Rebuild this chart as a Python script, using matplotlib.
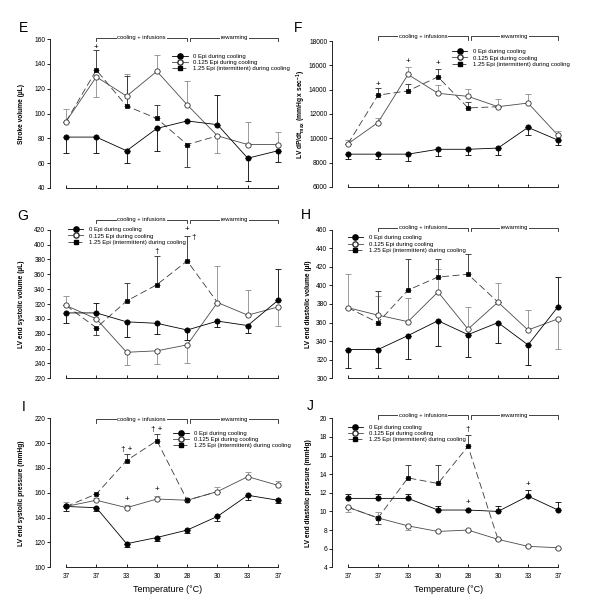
import numpy as np
import matplotlib
matplotlib.use('Agg')
import matplotlib.pyplot as plt
from matplotlib.lines import Line2D
from matplotlib.ticker import FormatStrFormatter

plt.rcParams['font.family'] = ['Liberation Sans', 'DejaVu Sans']
plt.rcParams['mathtext.fontset'] = 'custom'
plt.rcParams['mathtext.rm'] = 'Liberation Sans:bold'
plt.rcParams['mathtext.default'] = 'rm'
plt.rcParams['lines.scale_dashes'] = False

# ---------------- data ----------------
temps = ['37', '37', '33', '30', '28', '30', '33', '37']
series_labels = ['0 Epi during cooling', '0.125 Epi during cooling',
                 '1.25 Epi (intermittent) during cooling']

# E: stroke volume (uL)
sv_0 = [81, 81, 70, 88, 94, 91, 64, 70]
sv_0_dn = [13, 13, 10, 18, 0, 0, 18, 9]
sv_0_up = [0, 0, 0, 0, 0, 24, 0, 0]
sv_125 = [93.5, 129.5, 114, 134, 107, 82, 75, 75]
sv_125_dn = [0, 16.5, 0, 0, 0, 14, 0, 0]
sv_125_up = [10, 0, 18, 13, 19, 0, 18, 10]
sv_125i = [93.5, 135, 106, 96, 75, 82]
sv_125i_dn = [0, 0, 0, 0, 18, 0]
sv_125i_up = [0, 16, 24, 11, 0, 0]
sv_marks = [('+', 1, 153)]

# F: LV dP/dt max
dp_0 = [8700, 8700, 8700, 9100, 9100, 9200, 10900, 9850]
dp_0_dn = [380, 380, 600, 560, 500, 600, 600, 400]
dp_0_up = [0, 0, 0, 0, 0, 0, 0, 0]
dp_125 = [9550, 11300, 15250, 13700, 13450, 12600, 12900, 10250]
dp_125_dn = [0, 0, 0, 0, 0, 0, 0, 0]
dp_125_up = [330, 400, 650, 700, 600, 600, 750, 370]
dp_125i = [9550, 13550, 13900, 15050, 12500, 12600]
dp_125i_dn = [0, 0, 0, 0, 0, 0]
dp_125i_up = [0, 550, 600, 650, 450, 0]
dp_marks = [('+', 1, 14450), ('+', 2, 16280), ('+', 3, 16140)]

# G: LV end systolic volume (uL)
esv_0 = [308, 308, 296, 294, 285, 297, 291, 325]
esv_0_dn = [13, 0, 20, 14, 14, 8, 10, 0]
esv_0_up = [0, 13, 0, 0, 0, 0, 0, 42]
esv_125 = [318, 300, 255, 257, 265, 322, 305, 316]
esv_125_dn = [0, 0, 17, 18, 24, 0, 0, 25]
esv_125_up = [13, 0, 0, 0, 0, 49, 34, 0]
esv_125i = [318, 288, 324, 346, 378, 322]
esv_125i_dn = [0, 10, 0, 0, 0, 0]
esv_125i_up = [0, 0, 24, 38, 33, 0]
esv_marks = [('\u2020', 3, 390), ('+', 4, 420), ('\u2020', 4.2, 409)]

# H: LV end diastolic volume (ul)
edv_0 = [331, 331, 346, 362, 347, 360, 336, 377]
edv_0_dn = [19.5, 19.5, 25, 27, 24, 22, 22, 0]
edv_0_up = [0, 0, 0, 0, 0, 0, 0, 32]
edv_125 = [376, 368, 361, 393, 353, 382, 352, 364]
edv_125_dn = [0, 0, 0, 0, 0, 0, 0, 32]
edv_125_up = [36, 21, 25, 25, 24, 21, 22, 0]
edv_125i = [376, 360, 395, 409, 412, 382]
edv_125i_dn = [0, 0, 0, 0, 0, 0]
edv_125i_up = [0, 34, 33, 19, 22, 0]
edv_marks = []

# I: LV end systolic pressure (mmHg)
esp_0 = [149, 148, 119, 124, 130, 141, 158, 154]
esp_0_dn = [3.5, 3, 3, 2.5, 2, 4, 4, 2]
esp_0_up = [0, 0, 0, 0, 0, 0, 0, 0]
esp_125 = [149, 154, 148, 155, 154, 161, 173, 166]
esp_125_dn = [0, 0, 0, 0, 0, 0, 0, 0]
esp_125_up = [3.5, 2, 2, 2.5, 0, 3.5, 3.5, 3.5]
esp_125i = [149, 159, 186, 202, 154, 161]
esp_125i_dn = [0, 0, 0, 0, 0, 0]
esp_125i_up = [0, 0, 5, 5, 0, 0]
esp_marks = [('\u2020 +', 2, 195), ('\u2020 +', 3, 210.6), ('+', 2, 154.5), ('+', 3, 163)]

# J: LV end diastolic pressure (mmHg)
edp_0 = [11.4, 11.4, 11.4, 10.15, 10.15, 10.0, 11.65, 10.15]
edp_0_dn = [0, 0, 0, 0, 0, 0, 0, 0]
edp_0_up = [0.45, 0.45, 0.45, 0.4, 0, 0.55, 0.7, 0.9]
edp_125 = [10.45, 9.3, 8.45, 7.85, 8.0, 7.0, 6.25, 6.1]
edp_125_dn = [0.5, 0, 0.45, 0.1, 0.15, 0.1, 0.1, 0.1]
edp_125_up = [0, 0.6, 0, 0, 0, 0, 0, 0]
edp_125i = [10.45, 9.3, 13.6, 13.0, 17.0, 7.0]
edp_125i_dn = [0, 0.7, 0, 0, 0, 0]
edp_125i_up = [0, 0, 1.35, 2.0, 1.2, 0]
edp_marks = [('\u2020', 4, 18.75), ('+', 4, 11.0), ('+', 6, 12.9)]

# ---------------- drawing ----------------
W, H = 600, 611
fig = plt.figure(figsize=(W / 100, H / 100), dpi=100)

C0 = 'black'
C1 = '#4a4a4a'
C1E = '#8c8c8c'
C2 = '#3a3a3a'
C2E = '#2a2a2a'
LW = 0.6
MS = 3.8


def px_rect(x0, x1, ytop, ybot):
    return [x0 / W, 1 - ybot / H, (x1 - x0) / W, (ybot - ytop) / H]


def panel(rect, xlim, ylim, yticks, ylabel, ylab_x, s0, s1, s2, marks,
          leg_anchor, show_xlabels, yb):
    ax = fig.add_axes(rect)
    x = np.arange(len(s0[0]))
    xi = np.arange(len(s2[0]))
    y0, d0, u0 = [np.array(v, float) for v in s0]
    y1, d1, u1 = [np.array(v, float) for v in s1]
    y2, d2, u2 = [np.array(v, float) for v in s2]

    ax.errorbar(x, y1, yerr=[d1, u1], fmt='none', ecolor=C1E, elinewidth=LW,
                capsize=2.2, capthick=LW, zorder=1)
    ax.errorbar(xi, y2, yerr=[d2, u2], fmt='none', ecolor=C2E, elinewidth=LW,
                capsize=2.2, capthick=LW, zorder=1)
    ax.errorbar(x, y0, yerr=[d0, u0], fmt='none', ecolor=C0, elinewidth=LW,
                capsize=2.2, capthick=LW, zorder=1)

    ax.plot(xi, y2, color=C2, lw=LW, dashes=(5, 2.5), zorder=2)
    ax.plot(x, y1, color=C1, lw=LW, zorder=3)
    ax.plot(x, y0, color=C0, lw=LW, zorder=3)
    ax.plot(x, y1, ls='none', marker='o', ms=MS, mfc='white', mec='#303030',
            mew=0.6, zorder=6)
    ax.plot(x, y0, ls='none', marker='o', ms=MS, mfc='black', mec='black',
            mew=0.5, zorder=7)
    ax.plot(xi[1:5], y2[1:5], ls='none', marker='s', ms=3.4, mfc='black',
            mec='black', mew=0.5, zorder=8)

    for sym, xm, ym in marks:
        ax.text(xm, ym, sym, ha='center', va='center', fontsize=5.8, zorder=9)

    ax.set_xlim(*xlim)
    ax.set_ylim(*ylim)
    ax.set_yticks(yticks)
    ax.yaxis.set_major_formatter(FormatStrFormatter('%d'))
    ax.set_xticks(x)
    ax.set_xticklabels(temps if show_xlabels else [''] * len(x))
    ax.tick_params(axis='y', direction='out', length=2.2, width=LW,
                   labelsize=4.8, pad=1.2)
    ax.tick_params(axis='x', direction='in', length=2.5, width=LW,
                   labelsize=4.7, pad=4)
    for s in ['top', 'right']:
        ax.spines[s].set_visible(False)
    ax.spines['left'].set_linewidth(LW)
    ax.spines['bottom'].set_linewidth(LW)
    ax.spines['bottom'].set_bounds(0, x[-1])

    ax.set_ylabel(ylabel, fontsize=4.8, fontweight='bold')
    ax.yaxis.set_label_coords(ylab_x, 0.5)

    # phase brackets
    tr = ax.get_xaxis_transform()
    hb = 0.025
    for a, b, lab in [(1, 4.0, 'cooling + infusions'), (4.1, 7, 'rewarming')]:
        ax.plot([a, a, b, b], [yb - hb, yb, yb, yb - hb], transform=tr,
                color='#222222', lw=LW, clip_on=False)
        ax.text((a + b) / 2, yb, lab, transform=tr, ha='center', va='center',
                fontsize=4.2, clip_on=False,
                bbox=dict(facecolor='white', edgecolor='none', pad=0.6))

    handles = [
        Line2D([], [], color=C0, lw=LW, marker='o', ms=MS, mfc='black', mec='black'),
        Line2D([], [], color=C1, lw=LW, marker='o', ms=MS, mfc='white', mec='#303030'),
        Line2D([], [], color=C2, lw=LW, dashes=(4, 2), marker='s', ms=3.4,
               mfc='black', mec='black'),
    ]
    ax.legend(handles, series_labels, loc='upper left', bbox_to_anchor=leg_anchor,
              frameon=False, fontsize=4.3, handlelength=2.6, handletextpad=0.9,
              labelspacing=0.2, borderaxespad=0, borderpad=0, numpoints=1)

    if show_xlabels:
        ax.set_xlabel('Temperature (\u00b0C)', fontsize=6.5)
        ax.xaxis.set_label_coords(0.5, -(590 - 567.3) / 149)
        ax.xaxis.label.set_va('center')
    return ax


LX = (50, 285.6)
RX = (332, 565.5)
xl_left = (-0.53, 7.25)
xl_right = (-0.533, 7.25)

panel(px_rect(*LX, 39, 188), xl_left, (40, 160), np.arange(40, 161, 20),
      'Stroke volume (\u00b5L)', -0.106,
      (sv_0, sv_0_dn, sv_0_up), (sv_125, sv_125_dn, sv_125_up),
      (sv_125i, sv_125i_dn, sv_125i_up), sv_marks, (0.518, 0.903), False, 1.01)

panel(px_rect(*RX, 41, 187), xl_right, (6000, 18000), np.arange(6000, 18001, 2000),
      'LV dP/dt$_{max}$ (mmHg x sec$^{-1}$)', -0.103,
      (dp_0, dp_0_dn, dp_0_up), (dp_125, dp_125_dn, dp_125_up),
      (dp_125i, dp_125i_dn, dp_125i_up), dp_marks, (0.513, 0.945), False, 1.034)

panel(px_rect(*LX, 229.7, 378.3), xl_left, (220, 420), np.arange(220, 421, 20),
      'LV end systolic volume (\u00b5L)', -0.106,
      (esv_0, esv_0_dn, esv_0_up), (esv_125, esv_125_dn, esv_125_up),
      (esv_125i, esv_125i_dn, esv_125i_up), esv_marks, (0.076, 1.018), False, 1.067)

panel(px_rect(*RX, 229.7, 378.3), xl_right, (300, 460), np.arange(300, 461, 20),
      'LV end diastolic volume (\u00b5l)', -0.087,
      (edv_0, edv_0_dn, edv_0_up), (edv_125, edv_125_dn, edv_125_up),
      (edv_125i, edv_125i_dn, edv_125i_up), edv_marks, (0.067, 0.964), False, 1.013)

panel(px_rect(*LX, 418.3, 567.3), xl_left, (100, 220), np.arange(100, 221, 20),
      'LV end systolic pressure (mmHg)', -0.106,
      (esp_0, esp_0_dn, esp_0_up), (esp_125, esp_125_dn, esp_125_up),
      (esp_125i, esp_125i_dn, esp_125i_up), esp_marks, (0.522, 0.918), True, 0.995)

panel(px_rect(*RX, 418.3, 567.3), xl_right, (4, 20), np.arange(4, 21, 2),
      'LV end diastolic pressure (mmHg)', -0.087,
      (edp_0, edp_0_dn, edp_0_up), (edp_125, edp_125_dn, edp_125_up),
      (edp_125i, edp_125i_dn, edp_125i_up), edp_marks, (0.067, 0.958), True, 1.02)

for letter, lx, ly in [('E', 23, 28), ('F', 298, 28), ('G', 23, 216),
                       ('H', 306, 215), ('I', 24, 407), ('J', 310, 406)]:
    fig.text(lx / W, 1 - ly / H, letter, ha='center', va='center', fontsize=10)

fig.savefig('out.png', dpi=100)
